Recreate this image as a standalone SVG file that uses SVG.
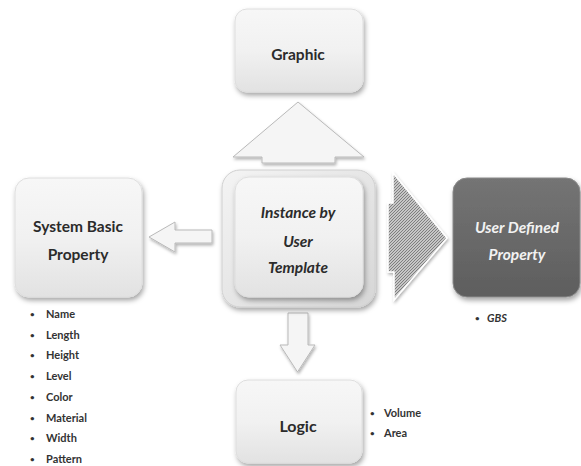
<svg xmlns="http://www.w3.org/2000/svg" width="581" height="466" viewBox="0 0 581 466">
<defs>
<style>
.lbl{font-family:Lato,"Open Sans","Liberation Sans",sans-serif;font-weight:bold;fill:#2b2b2b;text-anchor:middle;font-size:15.5px}
.it{font-style:italic}
.wt{fill:#f2f2f2}
.li{font-family:Lato,"Open Sans","Liberation Sans",sans-serif;font-weight:bold;fill:#333;font-size:11px}
.bu{font-size:8px}
.box{fill:url(#boxg);stroke:#dedede;stroke-width:1;filter:url(#sh)}
.arr{fill:#f5f5f5;stroke:#b9b9b9;stroke-width:1;filter:url(#sh2)}
</style>
<linearGradient id="boxg" x1="0" y1="0" x2="0" y2="1">
<stop offset="0" stop-color="#f7f7f7"/>
<stop offset="0.5" stop-color="#f1f1f1"/>
<stop offset="1" stop-color="#e2e2e2"/>
</linearGradient>
<linearGradient id="darkg" x1="0" y1="0" x2="0" y2="1">
<stop offset="0" stop-color="#747474"/>
<stop offset="1" stop-color="#5e5e5e"/>
</linearGradient>
<linearGradient id="frameg" x1="0" y1="0" x2="1" y2="1">
<stop offset="0" stop-color="#f4f4f4"/>
<stop offset="0.5" stop-color="#e6e6e6"/>
<stop offset="1" stop-color="#d6d6d6"/>
</linearGradient>
<pattern id="hatch" width="3" height="3" patternUnits="userSpaceOnUse">
<rect width="3" height="3" fill="#c6c6c6"/>
<path d="M-0.5,0.5 L0.5,-0.5 M0,3 L3,0 M2.5,3.5 L3.5,2.5" stroke="#7e7e7e" stroke-width="1"/>
</pattern>
<filter id="sh" x="-20%" y="-20%" width="140%" height="150%">
<feDropShadow dx="1.5" dy="3" stdDeviation="2.5" flood-color="#000" flood-opacity="0.35"/>
</filter>
<filter id="sh2" x="-20%" y="-20%" width="140%" height="150%">
<feDropShadow dx="1" dy="2" stdDeviation="1.5" flood-color="#000" flood-opacity="0.3"/>
</filter>
</defs>
<rect width="581" height="466" fill="#ffffff"/>

<g id="connectors">
<path id="arrow-up" class="arr" d="M298,102 L364,157 L335,157 L335,163 L262,163 L262,157 L233,157 Z"/>
<path id="arrow-left" class="arr" d="M212,230 L212,243 L175,243 L175,252 L149,237 L175,222 L175,230 Z"/>
<path id="arrow-down" class="arr" d="M288,313 L308,313 L308,345 L315,345 L297.5,372 L280,345 L288,345 Z"/>
<path id="arrow-right" d="M393,173 L447,238 L394,300 L394,272 L388,272 L388,203 L393,203 Z" fill="url(#hatch)" stroke="#ffffff" stroke-width="1.5" filter="url(#sh2)"/>
</g>

<g id="graphic">
<rect class="box" x="235" y="9" width="128" height="83" rx="12"/>
<text class="lbl" x="298" y="60">Graphic</text>
</g>

<g id="system-basic">
<rect class="box" x="15" y="178" width="127" height="119" rx="14"/>
<text class="lbl" x="78" y="232">System Basic</text>
<text class="lbl" x="78" y="260">Property</text>
</g>

<g id="instance">
<rect x="222" y="170" width="153" height="137" rx="18" fill="url(#frameg)" stroke="#d0d0d0" filter="url(#sh)"/>
<rect class="box" x="235" y="177" width="128" height="120" rx="14"/>
<text class="lbl it" x="298" y="218">Instance by</text>
<text class="lbl it" x="298" y="247">User</text>
<text class="lbl it" x="298" y="273">Template</text>
</g>

<g id="user-defined">
<rect x="453" y="178" width="127" height="119" rx="14" fill="url(#darkg)" stroke="#8a8a8a" filter="url(#sh)"/>
<text class="lbl it wt" x="517" y="233">User Defined</text>
<text class="lbl it wt" x="517" y="260">Property</text>
</g>

<g id="logic">
<rect class="box" x="236" y="380" width="126" height="83" rx="12"/>
<text class="lbl" x="298" y="432" style="font-size:16px">Logic</text>
</g>

<g id="system-list" class="li">
<text class="bu" x="30" y="317">•</text><text x="46" y="318">Name</text>
<text class="bu" x="30" y="337.5">•</text><text x="46" y="338.5">Length</text>
<text class="bu" x="30" y="358">•</text><text x="46" y="359">Height</text>
<text class="bu" x="30" y="379">•</text><text x="46" y="380">Level</text>
<text class="bu" x="30" y="400">•</text><text x="46" y="401">Color</text>
<text class="bu" x="30" y="420.5">•</text><text x="46" y="421.5">Material</text>
<text class="bu" x="30" y="441">•</text><text x="46" y="442">Width</text>
<text class="bu" x="30" y="462">•</text><text x="46" y="463">Pattern</text>
</g>

<g id="logic-list" class="li">
<text class="bu" x="370" y="416">•</text><text x="384" y="417">Volume</text>
<text class="bu" x="370" y="436">•</text><text x="384" y="437">Area</text>
</g>

<g id="user-list" class="li">
<text class="bu" x="475" y="321">•</text><text x="487" y="322" style="font-style:italic">GBS</text>
</g>
</svg>
